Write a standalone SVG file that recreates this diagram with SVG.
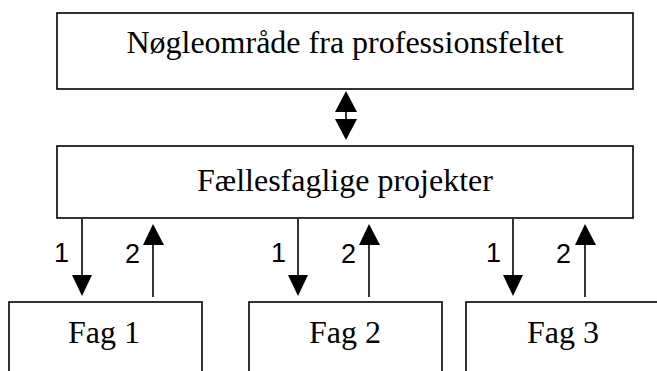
<svg xmlns="http://www.w3.org/2000/svg" width="657" height="371" viewBox="0 0 657 371">
<style>
.box{fill:#fff;stroke:#000;stroke-width:1.6}
.t{font-family:"Liberation Serif","Times New Roman",serif;font-size:32px;fill:#000;text-anchor:middle}
.n{font-family:"Liberation Sans",Arial,sans-serif;font-size:27px;fill:#000}
.ln{stroke:#000;stroke-width:1.6;fill:none}
.hd{fill:#000}
</style>
<rect width="657" height="371" fill="#fff"/>
<g id="top"><rect class="box" x="57" y="13" width="576" height="76"/><text class="t" x="345" y="53">Nøgleområde fra professionsfeltet</text></g>
<g id="proj"><rect class="box" x="57" y="146" width="576" height="72"/><text class="t" x="345" y="191">Fællesfaglige projekter</text></g>
<g id="fag1"><rect class="box" x="9" y="302" width="193" height="80"/><text class="t" x="104" y="343">Fag 1</text></g>
<g id="fag2"><rect class="box" x="249" y="302" width="193" height="80"/><text class="t" x="345" y="343">Fag 2</text></g>
<g id="fag3"><rect class="box" x="466" y="302" width="193" height="80"/><text class="t" x="563" y="343">Fag 3</text></g>
<g id="connectors">
<line class="ln" x1="346" y1="110" x2="346" y2="122"/>
<polygon class="hd" points="346,91 357,112 335,112"/>
<polygon class="hd" points="346,140 357,119 335,119"/>
<line class="ln" x1="82" y1="219" x2="82" y2="278"/>
<polygon class="hd" points="82,296 72,275 92,275"/>
<line class="ln" x1="153" y1="243" x2="153" y2="297"/>
<polygon class="hd" points="153,224 143,245 164,245"/>
<line class="ln" x1="298" y1="219" x2="298" y2="278"/>
<polygon class="hd" points="298,296 288,275 308,275"/>
<line class="ln" x1="369" y1="243" x2="369" y2="297"/>
<polygon class="hd" points="369,224 359,245 380,245"/>
<line class="ln" x1="513" y1="219" x2="513" y2="278"/>
<polygon class="hd" points="513,296 503,275 523,275"/>
<line class="ln" x1="585" y1="243" x2="585" y2="297"/>
<polygon class="hd" points="585,224 575,245 596,245"/>
</g>
<g id="labels">
<text class="n" x="54" y="262">1</text>
<text class="n" x="125" y="263">2</text>
<text class="n" x="271" y="262">1</text>
<text class="n" x="341" y="263">2</text>
<text class="n" x="486" y="262">1</text>
<text class="n" x="556" y="263">2</text>
</g>
</svg>
